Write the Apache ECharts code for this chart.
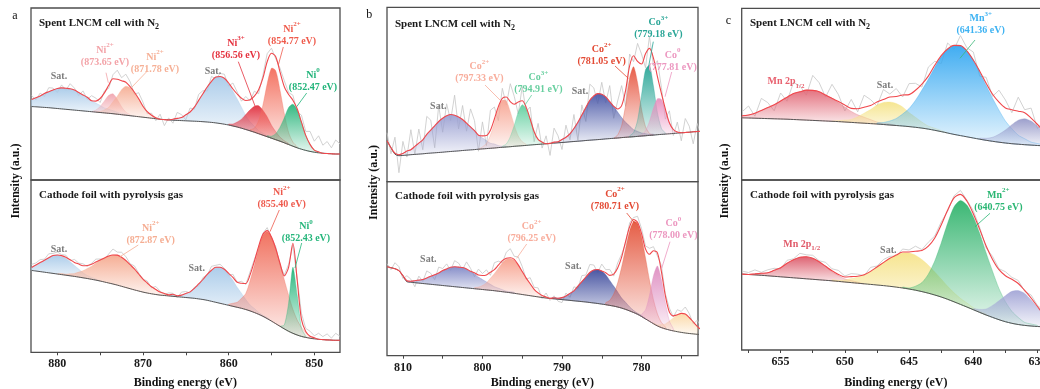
<!DOCTYPE html>
<html>
<head>
<meta charset="utf-8">
<title>XPS Ni 2p / Co 2p / Mn 2p</title>
<script src="https://cdn.jsdelivr.net/npm/echarts@6.0.0/dist/echarts.min.js"></script>
<style>
  html, body { margin: 0; padding: 0; background: #fff; }
  #chart { width: 1040px; height: 389px; }
</style>
</head>
<body>
<div id="chart"></div>
<script>
// all spectra sampled every 0.5 eV; heights in plot units above the panel floor
const STEP = 0.5;

// ---------- Ni 2p (a) ----------
const niStart = 847;
const niTicks = [850, 855, 860, 865, 870, 875, 880];
const niLabels = [850, 860, 870, 880];

const niSpentBg = [26, 26, 26.2, 26.5, 26.8, 27.2, 27.8, 28.6, 29.6, 30.8,
  32.2, 33.8, 35.5, 37.2, 38.8, 40.3, 41.8, 43.3, 44.8, 46.3,
  47.8, 49.2, 50.5, 51.8, 53, 54, 55, 55.8, 56.5, 57.1,
  57.6, 58, 58.3, 58.6, 58.8, 59, 59.2, 59.4, 59.6, 59.8,
  60.1, 60.4, 60.8, 61.3, 61.8, 62.3, 62.8, 63.3, 63.8, 64.3,
  64.8, 65.3, 65.8, 66.3, 66.7, 67.1, 67.5, 67.9, 68.3, 68.7,
  69.1, 69.5, 69.9, 70.3, 70.7, 71.1, 71.5, 71.9, 72.3, 72.6,
  72.9, 73.2, 73.5];
const niSpentResid = [10, 14, 6, 12, 8, 16, 9, 13, 4, 7,
  -3, 5, 2, 6, 4, -2, 5, 8, 3, -4,
  5, -1, 4, -3, 2, 6, -3, 4, 3, -2,
  5, -4, 3, 6, -2, 4, -5, 3, 6, -4,
  2, -6, 5, -3, 2, -2, 4, 6, -2, 5,
  8, 3, 9, 4, -3, 2, -4, 3, 5, -2,
  4, -3, 2, 5, -2, 3, -4, 2, 4, -3,
  3, -2, 4];
const niSpentSat1 = { from: 871, h: [0, 0, 1, 1, 2, 3, 4, 5, 7, 9, 11, 14, 16, 18, 20, 21, 21, 21, 20, 18, 16, 14, 11, 9, 7] };
const niSpentNi2a = { from: 871.5, h: [1, 3, 8, 15, 20, 18, 12, 6, 2, 0] };
const niSpentNi2b = { from: 868, h: [0, 1, 3, 6, 11, 18, 24, 28, 29, 25, 18, 12, 6, 3, 1, 0] };
const niSpentSat2 = { from: 855, h: [0, 1, 2, 3, 6, 9, 14, 21, 28, 35, 41, 46, 47, 46, 41, 35, 28, 21, 14, 9, 6, 3, 2, 1, 0] };
const niSpentNi3 = { from: 853, h: [1, 2, 4, 8, 13, 20, 25, 28, 26, 21, 15, 9, 5, 2, 1] };
const niSpentNi2c = { from: 852, h: [1, 4, 12, 29, 51, 69, 70, 53, 30, 13, 4, 1] };
const niSpentNi0 = { from: 849.5, h: [1, 2, 7, 15, 27, 38, 42, 37, 25, 14, 6, 2, 1] };

const niFoilBg = [12, 12, 12.2, 12.4, 12.7, 13, 13.5, 14.1, 14.9, 15.9,
  17.3, 19, 21, 23.4, 26, 28.6, 31.2, 33.7, 36, 38,
  39.8, 41.4, 42.8, 44, 45, 46, 47, 48, 49, 50,
  51, 52, 52.8, 53.4, 54, 54.4, 54.8, 55.2, 55.6, 56,
  56.4, 56.8, 57.2, 57.8, 58.5, 59.3, 60.2, 61.3, 62.4, 63.6,
  64.8, 66, 67.2, 68.3, 69.3, 70.3, 71.3, 72.2, 73, 73.8,
  74.5, 75.2, 75.9, 76.5, 77.1, 77.7, 78.3, 78.9, 79.5, 80.1,
  80.7, 81.3, 81.9];
const niFoilResid = [4, 7, 2, 6, 3, 6, 2, 5, 3, 6,
  2, -2, 3, 1, -2, 2, -1, 3, 1, -2,
  2, 3, -1, 2, 0, 3, -2, 1, 3, 2,
  4, -1, 2, -2, 1, -1, 2, 3, -2, 1,
  2, -1, 1, 3, -1, 2, 0, 1, 3, 1,
  4, 5, 3, 6, 2, -1, 1, 3, 1, -1,
  2, 1, 3, -1, 2, 1, 3, 2, 4, 1,
  3, 2, 3];
const niFoilSat1 = { from: 875, h: [0, 1, 2, 3, 5, 8, 11, 14, 17, 18, 19, 18, 15, 12, 9, 6, 3] };
const niFoilNi2a = { from: 866, h: [0, 1, 1, 2, 3, 5, 7, 10, 13, 17, 21, 24, 27, 29, 30, 29, 27, 24, 21, 17, 13, 10, 7, 5, 3, 2, 1, 1, 0] };
const niFoilSat2 = { from: 855, h: [0, 1, 1, 2, 4, 6, 10, 15, 20, 26, 31, 35, 36, 35, 31, 26, 20, 15, 10, 6, 4, 2, 1, 1, 0] };
const niFoilNi2b = { from: 850, h: [1, 2, 5, 9, 15, 24, 36, 49, 63, 75, 84, 87, 81, 66, 47, 30, 16, 10, 5, 3, 1] };
const niFoilNi0 = { from: 851, h: [1, 8, 40, 66, 28, 4, 0] };

// ---------- Co 2p (b) ----------
const coStart = 772.5;
const coTicks = [775, 780, 785, 790, 795, 800, 805, 810];
const coLabels = [780, 790, 800, 810];

const coSpentBg = [50.5, 50.2, 49.9, 49.5, 49.2, 48.9, 48.6, 48.2, 47.9, 47.6,
  47.3, 47, 46.6, 46.3, 46, 45.7, 45.3, 45, 44.7, 44.4,
  44.1, 43.7, 43.4, 43.1, 42.8, 42.4, 42.1, 41.8, 41.5, 41.2,
  40.8, 40.5, 40.2, 39.9, 39.5, 39.2, 38.9, 38.6, 38.3, 37.9,
  37.6, 37.3, 37, 36.7, 36.3, 36, 35.7, 35.4, 35, 34.7,
  34.4, 34.1, 33.7, 33.4, 33.1, 32.8, 32.5, 32.1, 31.8, 31.5,
  31.2, 30.8, 30.5, 30.2, 29.9, 29.5, 29.2, 28.9, 28.6, 28.3,
  27.9, 27.6, 27.3, 27, 26.6, 26.3, 26, 27.5, 34, 41];
const coSpentResid = [-4, 8, -12, 6, 14, -8, 10, -6, 12, -10,
  6, 16, -8, 12, -14, 10, 18, -6, 12, -16,
  20, 8, -12, 16, -6, 12, -10, 8, 16, -14,
  10, -18, 14, -6, 12, -10, 6, 14, -12, 8,
  -6, 16, -10, 12, -4, 14, -12, 8, 18, -8,
  10, -14, 12, 20, -10, 14, -16, 10, 18, -8,
  14, -12, 20, -6, 12, -14, 16, -22, 10, 18,
  -10, 14, -8, 20, -6, 12, -18, 16, -6, 8];
const coSpentSat1 = { from: 797, h: [1, 1, 2, 4, 5, 8, 11, 14, 19, 23, 27, 31, 34, 36, 37, 36, 34, 31, 27, 23, 19, 14, 11, 8, 5, 4, 2, 1, 1] };
const coSpentCo2a = { from: 794.5, h: [1, 4, 10, 21, 35, 46, 47, 39, 25, 13, 5, 2, 0] };
const coSpentCo3a = { from: 792, h: [0, 2, 5, 13, 26, 37, 41, 34, 21, 10, 3, 1] };
const coSpentSat2 = { from: 778.5, h: [1, 1, 2, 3, 5, 7, 11, 15, 20, 26, 32, 37, 42, 45, 46, 44, 40, 33, 26, 19, 13, 8, 5, 3, 1, 1] };
const coSpentCo2b = { from: 778.5, h: [0, 2, 9, 27, 54, 70, 59, 32, 12, 3, 0] };
const coSpentCo3b = { from: 777, h: [1, 6, 22, 49, 70, 66, 41, 16, 4, 1] };
const coSpentCo0 = { from: 775, h: [0, 1, 4, 11, 24, 35, 36, 27, 14, 5, 1, 0] };

const coFoilBg = [21, 21.4, 21.8, 22.2, 22.7, 23.3, 24, 24.8, 25.7, 26.8,
  28.1, 29.8, 32, 34.4, 36.8, 39.2, 41.4, 43.2, 44.8, 46.3,
  47.6, 48.7, 49.6, 50.3, 51, 51.6, 52.2, 52.7, 53.2, 53.7,
  54.1, 54.5, 54.9, 55.3, 55.7, 56.1, 56.5, 56.9, 57.3, 57.7,
  58.2, 58.8, 59.4, 60, 60.6, 61.2, 61.8, 62.4, 63, 63.5,
  64, 64.5, 65, 65.4, 65.8, 66.2, 66.6, 67, 67.4, 67.8,
  68.2, 68.6, 69, 69.4, 69.8, 70.2, 70.6, 71, 71.4, 71.8,
  72.2, 72.6, 73, 73.5, 74, 80, 85, 87, 88, 89];
const coFoilResid = [3, 6, -2, 4, 7, 2, 5, -1, 4, 2,
  6, -3, 4, 6, 3, 5, 6, 2, 4, -2,
  3, 5, -2, 6, 3, 7, -3, 5, 8, 2,
  6, -2, 4, -4, 3, -5, -3, 2, -2, 4,
  -3, 5, 2, 6, -1, 5, 8, 3, 9, 6,
  -2, 4, 7, -3, 5, 2, 6, -4, 3, 7,
  -2, 4, 6, -3, 5, 2, 6, -5, 3, 7,
  -2, 4, -6, 2, 5, -3, 4, 6, -2, 3];
const coFoilSat1 = { from: 796, h: [1, 1, 1, 2, 3, 4, 6, 8, 10, 12, 15, 17, 19, 20, 20, 20, 19, 17, 15, 12, 10, 8, 6, 4, 3, 2, 1, 1, 0] };
const coFoilCo2a = { from: 791, h: [0, 0, 1, 2, 4, 7, 12, 17, 23, 29, 33, 34, 33, 29, 23, 17, 12, 7, 4, 2, 1] };
const coFoilSat2 = { from: 779.5, h: [0, 1, 1, 2, 4, 7, 10, 15, 20, 25, 30, 33, 34, 33, 30, 25, 20, 15, 10, 7, 4, 2, 1, 1, 0] };
const coFoilCo2b = { from: 777, h: [2, 5, 12, 24, 41, 61, 80, 91, 91, 80, 61, 41, 24, 12, 5, 2] };
const coFoilTail = { from: 772.5, h: [5, 8, 12, 16, 19, 19, 17, 13, 9, 5, 3, 1, 1] };
const coFoilCo0 = { from: 776, h: [2, 9, 26, 48, 60, 48, 26, 9, 2] };

// ---------- Mn 2p (c) ----------
const mnStart = 634;
const mnTicks = [635, 637.5, 640, 642.5, 645, 647.5, 650, 652.5, 655, 657.5];
const mnLabels = [635, 640, 645, 650, 655];

const mnSpentBg = [34, 34.2, 34.5, 34.9, 35.3, 35.8, 36.3, 37, 37.8, 38.7,
  39.7, 40.8, 42, 43.2, 44.4, 45.6, 47, 48.4, 49.7, 50.9,
  51.9, 52.7, 53.4, 54, 54.5, 55, 55.5, 56, 56.4, 56.8,
  57.2, 57.6, 58, 58.4, 58.7, 59, 59.3, 59.6, 59.9, 60.2,
  60.5, 60.8, 61, 61.2, 61.4, 61.6, 61.8, 62, 62.2];
const mnSpentResid = [6, 12, -4, 10, 3, 14, -3, 8, 12, -2,
  6, -5, 8, 3, 10, -4, 6, -8, 4, 9,
  -3, 7, 11, -2, 8, 3, 10, -4, 6, 12,
  -3, 9, -6, 7, 14, -2, 9, 15, -5, 6,
  11, -4, 8, -6, 5, 12, -3, 9, 4];
const mnSpent2p12 = { from: 646, h: [0, 1, 1, 2, 4, 6, 8, 11, 15, 19, 23, 26, 29, 30, 30, 28, 26, 22, 18, 14, 11, 8, 5, 3, 2] };
const mnSpentSat = { from: 642, h: [0, 1, 2, 3, 6, 10, 14, 19, 22, 23, 22, 19, 14, 10, 6, 3, 2, 1, 0] };
const mnSpentMn3 = { from: 634, h: [0, 1, 2, 3, 6, 9, 15, 22, 32, 43, 55, 67, 78, 86, 90, 89, 84, 75, 63, 50, 38, 27, 18, 12, 7, 4, 2, 1] };
const mnSpentLow = { from: 634, h: [8, 13, 19, 24, 26, 24, 19, 13, 8, 4, 2, 1] };

const mnFoilBg = [23, 23.2, 23.5, 24, 24.6, 25.5, 26.7, 28.3, 30.3, 32.6,
  35, 37.6, 40.3, 43, 45.6, 48.2, 50.7, 53, 55, 56.8,
  58.4, 59.8, 61, 62, 62.9, 63.7, 64.4, 65, 65.6, 66.2,
  66.8, 67.4, 68, 68.6, 69.2, 69.7, 70.2, 70.7, 71.2, 71.7,
  72.2, 72.7, 73.2, 73.7, 74.2, 74.7, 75.1, 75.5, 75.9];
const mnFoilResid = [2, 4, 1, 3, -1, 3, 2, 4, 1, 3,
  -2, 2, 3, 1, 4, 2, -1, 3, 2, 4,
  1, 5, 2, 3, -1, 2, 3, 1, 4, -1,
  2, 3, 1, 4, 2, 4, 1, 3, 2, 4,
  1, 3, -1, 2, 3, 1, 4, 2, 3];
const mnFoil2p12 = { from: 648.5, h: [0, 1, 2, 3, 6, 9, 14, 18, 21, 22, 21, 18, 14, 9, 6, 3, 2, 1, 0] };
const mnFoilSat = { from: 639, h: [1, 1, 2, 4, 6, 9, 13, 18, 23, 28, 32, 35, 36, 35, 32, 28, 23, 18, 13, 9, 6, 4, 2, 1, 1] };
const mnFoilMn2 = { from: 635, h: [1, 2, 3, 7, 12, 20, 31, 46, 62, 79, 93, 102, 104, 95, 76, 54, 34, 19, 9, 4, 1, 1] };
const mnFoilLow = { from: 634, h: [6, 12, 19, 26, 32, 34, 32, 26, 19, 12, 6, 3, 1] };

// ---------- layout ----------
const FONT = '"Liberation Serif", "Times New Roman", serif';

const panels = [
  { start: niStart, bg: niSpentBg, resid: niSpentResid, box: [31, 8, 309, 172], range: [847.0, 883.07],
    peaks: [[niSpentSat1, '#a8cae9'], [niSpentNi2a, '#f0a3ad'], [niSpentNi2b, '#f6ad93'], [niSpentSat2, '#a8cae9'],
      [niSpentNi3, '#e1313f'], [niSpentNi2c, '#f36c5a'], [niSpentNi0, '#29b57b']] },
  { start: niStart, bg: niFoilBg, resid: niFoilResid, box: [31, 180, 309, 172.3], range: [847.0, 883.07],
    ticks: niTicks, labels: niLabels,
    peaks: [[niFoilSat1, '#a8cae9'], [niFoilNi2a, '#f5a98e'], [niFoilSat2, '#a8cae9'], [niFoilNi2b, '#f06b58'], [niFoilNi0, '#22b479']] },
  { start: coStart, bg: coSpentBg, resid: coSpentResid, box: [387, 7.3, 311, 174.4], range: [772.9, 812.0],
    peaks: [[coSpentSat1, '#9aa0d2'], [coSpentCo2a, '#f7a593'], [coSpentCo3a, '#62cf9f'], [coSpentSat2, '#4a58a8'],
      [coSpentCo2b, '#e6553f'], [coSpentCo3b, '#27a596'], [coSpentCo0, '#e78fbe']] },
  { start: coStart, bg: coFoilBg, resid: coFoilResid, box: [387, 181.7, 311, 174], range: [772.9, 812.0],
    ticks: coTicks, labels: coLabels,
    peaks: [[coFoilSat1, '#8088c6'], [coFoilCo2a, '#f7a08c'], [coFoilSat2, '#404d9e'], [coFoilCo2b, '#e4553c'],
      [coFoilTail, '#fbd7a4'], [coFoilCo0, '#de8cc0']] },
  { start: mnStart, bg: mnSpentBg, resid: mnSpentResid, box: [741.7, 8.3, 310.6, 171.7], range: [633.85, 658.03],
    peaks: [[mnSpent2p12, '#e26b79'], [mnSpentSat, '#f5e48a'], [mnSpentMn3, '#35a8f1'], [mnSpentLow, '#9699c9']] },
  { start: mnStart, bg: mnFoilBg, resid: mnFoilResid, box: [741.7, 180, 310.6, 170], range: [633.85, 658.03],
    ticks: mnTicks, labels: mnLabels,
    peaks: [[mnFoil2p12, '#dc5a6a'], [mnFoilSat, '#f6e38a'], [mnFoilMn2, '#30b36c'], [mnFoilLow, '#a2a5d6']] }
];

function rgba(hex, a) {
  const n = parseInt(hex.slice(1), 16);
  return 'rgba(' + ((n >> 16) & 255) + ',' + ((n >> 8) & 255) + ',' + (n & 255) + ',' + a + ')';
}

function idx(panel, e) {
  return Math.round((e - panel.start) / STEP);
}

function envelopeOf(panel) {
  const env = panel.bg.slice();
  panel.peaks.forEach(([pk]) => {
    pk.h.forEach((h, k) => { env[idx(panel, pk.from + k * STEP)] += h; });
  });
  return env;
}

function peakItem(panel) {
  return function (params, api) {
    const [pk, color] = panel.peaks[params.dataIndex];
    const top = [];
    const base = [];
    pk.h.forEach((h, k) => {
      const e = pk.from + k * STEP;
      const b = panel.bg[idx(panel, e)];
      top.push(api.coord([e, b + h]));
      base.push(api.coord([e, b]));
    });
    return {
      type: 'polygon',
      shape: { points: top.concat(base.reverse()), smooth: 0.25 },
      style: {
        fill: new echarts.graphic.LinearGradient(0, 0, 0, 1, [
          { offset: 0, color: rgba(color, 0.95) },
          { offset: 1, color: rgba(color, 0.1) }
        ]),
        stroke: rgba(color, 0.55),
        lineWidth: 0.6
      }
    };
  };
}

const grids = [];
const xAxes = [];
const yAxes = [];
const series = [];

panels.forEach((p, i) => {
  const [left, top, width, height] = p.box;
  grids.push({
    left, top, width, height, containLabel: false, outerBoundsMode: 'none',
    show: true, borderColor: '#4d4d4d', borderWidth: 1.3, backgroundColor: 'transparent'
  });
  const bottom = !!p.ticks;
  xAxes.push({
    gridIndex: i, type: 'value', inverse: true, min: p.range[0], max: p.range[1],
    axisLine: { show: false }, splitLine: { show: false },
    axisTick: bottom
      ? { show: true, inside: false, length: 3, lineStyle: { color: '#444', width: 1 }, customValues: p.ticks }
      : { show: false },
    axisLabel: bottom
      ? { show: true, customValues: p.labels, margin: 6, fontFamily: FONT, fontWeight: 'bold', fontSize: 12, color: '#1a1a1a' }
      : { show: false }
  });
  yAxes.push({ gridIndex: i, type: 'value', min: 0, max: height, show: false });

  const energies = p.bg.map((_, j) => p.start + j * STEP);
  const env = envelopeOf(p);
  series.push({
    type: 'line', xAxisIndex: i, yAxisIndex: i, symbol: 'none', z: 1, silent: true,
    lineStyle: { color: '#c6c6c6', width: 0.8 },
    data: energies.map((e, j) => [e, env[j] + p.resid[j]])
  });
  series.push({
    type: 'custom', xAxisIndex: i, yAxisIndex: i, z: 2, clip: true, silent: true,
    data: p.peaks.map(([pk]) => [pk.from, 0]),
    renderItem: peakItem(p)
  });
  series.push({
    type: 'line', xAxisIndex: i, yAxisIndex: i, symbol: 'none', z: 3, silent: true, smooth: 0.3,
    lineStyle: { color: '#555', width: 1 },
    data: energies.map((e, j) => [e, p.bg[j]])
  });
  series.push({
    type: 'line', xAxisIndex: i, yAxisIndex: i, symbol: 'none', z: 4, silent: true, smooth: 0.3,
    lineStyle: { color: '#f0474c', width: 1.1 },
    data: energies.map((e, j) => [e, env[j]])
  });
});

// ---------- annotations ----------
function rich(x, y, text, color, size, align) {
  const a = align || 'center';
  return {
    type: 'text', x, y, z: 100, silent: true,
    style: {
      text, fill: color, align: a, verticalAlign: 'middle', textAlign: a, textVerticalAlign: 'middle',
      rich: {
        b: { fontFamily: FONT, fontWeight: 'bold', fontSize: size, lineHeight: 16, fill: color },
        s: { fontFamily: FONT, fontWeight: 'bold', fontSize: Math.round(size * 0.7), lineHeight: 7, verticalAlign: 'top', fill: color },
        u: { fontFamily: FONT, fontWeight: 'bold', fontSize: Math.round(size * 0.7), lineHeight: 7, verticalAlign: 'bottom', fill: color }
      }
    }
  };
}

const ionLabels = [
  [105, 50, 'Ni', '2+', '(873.65 eV)', '#f3a3a8'],
  [155, 57, 'Ni', '2+', '(871.78 eV)', '#f6b096'],
  [236, 43, 'Ni', '3+', '(856.56 eV)', '#e5323f'],
  [292, 29, 'Ni', '2+', '(854.77 eV)', '#ef5b4c'],
  [313, 75, 'Ni', '0', '(852.47 eV)', '#21b47a'],
  [150.7, 228, 'Ni', '2+', '(872.87 eV)', '#f5ad92'],
  [281.7, 192.7, 'Ni', '2+', '(855.40 eV)', '#ee5a4d'],
  [306, 226.7, 'Ni', '0', '(852.43 eV)', '#25b67b'],
  [479.3, 66.7, 'Co', '2+', '(797.33 eV)', '#f8ad9c'],
  [538.3, 77.3, 'Co', '3+', '(794.91 eV)', '#68cf9f'],
  [601.7, 49.3, 'Co', '2+', '(781.05 eV)', '#e34a34'],
  [658.3, 22.7, 'Co', '3+', '(779.18 eV)', '#2aa697'],
  [672.7, 55, 'Co', '0', '(777.81 eV)', '#ec97c0'],
  [531.7, 226.7, 'Co', '2+', '(796.25 eV)', '#f8ad9c'],
  [615, 194, 'Co', '2+', '(780.71 eV)', '#e34a34'],
  [673.3, 223.3, 'Co', '0', '(778.00 eV)', '#ec97c0'],
  [980.7, 18.3, 'Mn', '3+', '(641.36 eV)', '#3db2f2'],
  [998.3, 195, 'Mn', '2+', '(640.75 eV)', '#2bb673']
];
const satLabels = [[59, 76], [213, 71], [59, 249], [196.7, 268], [438.3, 106.7], [580, 91.7],
  [428.3, 259.3], [573.3, 266], [885, 85], [888.3, 250]];
const leaders = [
  [106, 72.7, 108.3, 82.7, '#f3a3a8'], [146.7, 71.7, 131.7, 87.3, '#f6b096'], [238.3, 61.7, 255, 106, '#e5323f'],
  [283.3, 47, 278.3, 65, '#ef5b4c'], [306.7, 93, 296.7, 106.7, '#21b47a'],
  [138.3, 245, 120, 256.7, '#f5ad92'], [279.3, 210, 270, 231.7, '#ee5a4d'], [301.7, 243, 295, 268, '#25b67b'],
  [485, 85, 500, 100, '#f8ad9c'], [531.7, 95, 525, 105, '#68cf9f'], [615, 66, 628.3, 78.3, '#e34a34'],
  [653.3, 41.7, 648.3, 68.3, '#2aa697'], [671.7, 72, 665, 96.7, '#ec97c0'],
  [526.7, 244, 516.7, 258.3, '#f8ad9c'], [626.7, 213, 635, 223.3, '#e34a34'], [670, 241.7, 661.7, 268.3, '#ec97c0'],
  [975, 40, 960, 58.3, '#3cb878'], [990, 213.3, 975, 226.7, '#2bb673']
];

const graphics = [];
ionLabels.forEach(([x, y, el, q, e, c]) => {
  graphics.push(rich(x, y, '{b|' + el + '}{s|' + q + '}', c, 10));
  graphics.push(rich(x, y + 12, '{b|' + e + '}', c, 10));
});
satLabels.forEach(([x, y]) => graphics.push(rich(x, y, '{b|Sat.}', '#7d7d7d', 10)));
leaders.forEach(([x1, y1, x2, y2, c]) => graphics.push({
  type: 'line', z: 100, silent: true, shape: { x1, y1, x2, y2 }, style: { stroke: c, lineWidth: 0.8 }
}));
graphics.push(rich(786, 81.7, '{b|Mn 2p}{u|1/2}', '#e8606e', 10));
graphics.push(rich(801.7, 244, '{b|Mn 2p}{u|1/2}', '#e05a69', 10));

[[39, 22.7], [395, 24], [750, 23.3]].forEach(([x, y]) =>
  graphics.push(rich(x, y, '{b|Spent LNCM cell with N}{u|2}', '#1a1a1a', 11, 'left')));
[[39, 195], [395, 196], [750, 195]].forEach(([x, y]) =>
  graphics.push(rich(x, y, '{b|Cathode foil with pyrolysis gas}', '#1a1a1a', 11, 'left')));

[[16, 181], [374, 182.5], [725, 181]].forEach(([x, y]) => graphics.push({
  type: 'text', x, y, rotation: Math.PI / 2, z: 100, silent: true,
  style: { text: 'Intensity (a.u.)', font: 'bold 12px ' + FONT, fill: '#111', align: 'center', verticalAlign: 'middle', textAlign: 'center', textVerticalAlign: 'middle' }
}));
[[185.3, 383.3], [542.3, 383.3], [895.8, 383.3]].forEach(([x, y]) => graphics.push({
  type: 'text', x, y, z: 100, silent: true,
  style: { text: 'Binding energy (eV)', font: 'bold 12px ' + FONT, fill: '#111', align: 'center', verticalAlign: 'middle', textAlign: 'center', textVerticalAlign: 'middle' }
}));
[['a', 15, 16], ['b', 369.3, 15], ['c', 728.3, 20.5]].forEach(([t, x, y]) => graphics.push({
  type: 'text', x, y, z: 100, silent: true,
  style: { text: t, font: '12px ' + FONT, fill: '#111', align: 'center', verticalAlign: 'middle', textAlign: 'center', textVerticalAlign: 'middle' }
}));

const chart = echarts.init(document.getElementById('chart'), null, { renderer: 'canvas' });
chart.setOption({
  animation: false,
  backgroundColor: '#ffffff',
  grid: grids,
  xAxis: xAxes,
  yAxis: yAxes,
  series,
  graphic: { elements: graphics }
});
</script>
</body>
</html>
